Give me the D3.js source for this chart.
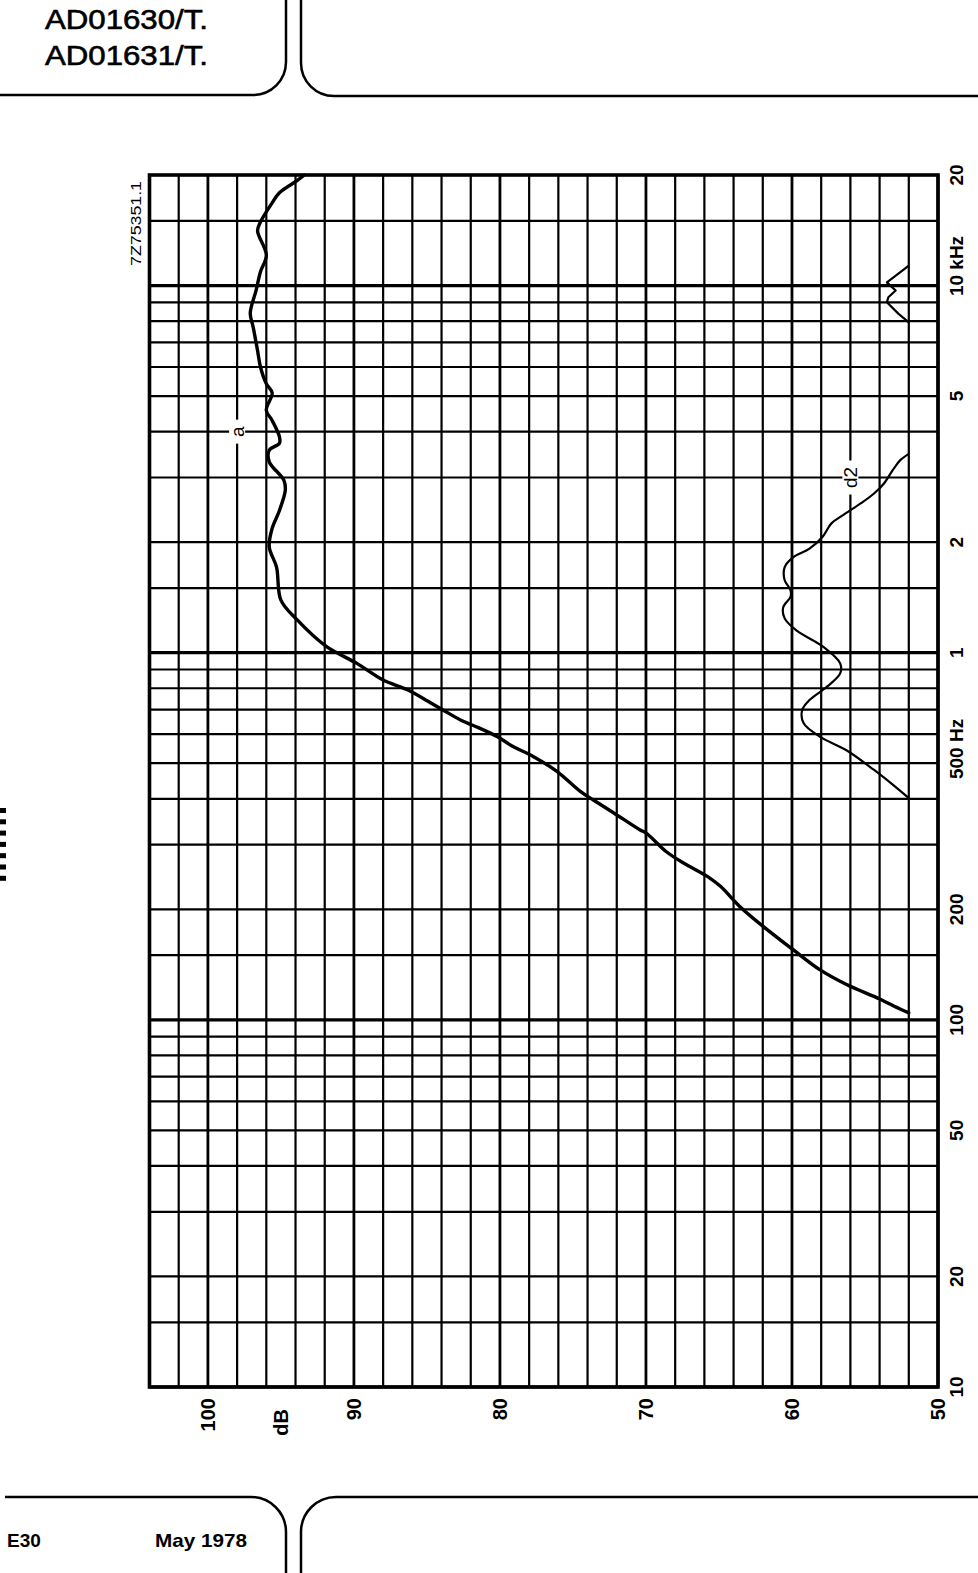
<!DOCTYPE html>
<html>
<head>
<meta charset="utf-8">
<script src="https://cdn.jsdelivr.net/npm/d3@7"></script>
<style>
  html, body { margin: 0; padding: 0; background: #ffffff; }
  svg { display: block; }
</style>
</head>
<body>
<svg id="chart" width="978" height="1573"></svg>
<script>
// ---------------- data ----------------
const gridFreqs = [10,15,20,30,40,50,60,70,80,90,
                   100,150,200,300,400,500,600,700,800,900,
                   1000,1500,2000,3000,4000,5000,6000,7000,8000,9000,
                   10000,15000,20000];
const decadeFreqs = [10,100,1000,10000];
const gridDb = [50,52,54,56,58,60,62,64,66,68,70,72,74,76,78,80,82,84,86,88,90,92,94,96,98,100,102,104];

const freqLabelValues = [10,20,50,100,200,500,1000,2000,5000,10000,20000];
const freqLabelTexts  = ["10","20","50","100","200","500","1","2","5","10","20"];
const freqLabelUnits  = ["","","","","",  " Hz","","","", " kHz",""];

const dbLabelValues = [100,90,80,70,60,50];
const dbLabelTexts  = ["100","90","80","70","60","50"];
const dbUnitText = "dB";
const dbUnitValue = 95;

// curve a (sound pressure level)
const curveAFreq = [20000,19300,17900,16800,14900,14100,12100,10900,9700,8400,
                    7700,6650,6000,5400,5100,4570,4290,3870,3720,3560,
                    3310,2950,2770,2440,2180,1940,1710,1390,1230,1040,
                    996,935,842,791,736,698,656,623,591,555,
                    521,475,419,397,366,329,323,287,267,246,
                    231,204,180,155,137,125,114,107,104.5];
const curveADb   = [93.4,93.9,95.1,95.6,96.4,96.6,96.0,96.4,96.7,97.1,
                    96.9,96.6,96.4,96.0,95.6,96.0,95.6,95.1,95.1,95.8,
                    95.8,94.8,94.7,95.1,95.6,95.8,95.3,95.0,93.9,91.9,
                    91.1,89.8,88.0,86.3,84.9,83.9,82.7,81.4,80.2,79.1,
                    77.7,76.1,74.5,73.6,72.2,70.4,70.0,68.6,67.4,65.8,
                    64.9,63.6,62.0,59.9,58.1,56.3,54.0,52.6,52.0];

// curve d2 (second harmonic distortion), lower segment
const curveD2Freq = [3480,3340,3140,2890,2710,2550,2370,2250,2070,1920,
                     1820,1710,1575,1480,1420,1330,1240,1150,1040,935,
                     878,808,743,698,642,591,543,480,437,401.5];
const curveD2Db   = [52.0,52.6,53.1,53.7,54.4,55.3,56.5,57.3,57.9,58.8,
                     59.9,60.5,60.5,60.1,60.1,60.6,60.5,59.7,57.9,56.7,
                     56.7,57.6,58.8,59.3,59.2,58.1,56.3,54.4,53.1,52.0];
// curve d2, upper segment near 10 kHz
const curveD2hFreq = [11330,10860,10200,9690,9290,9000,8370,7940];
const curveD2hDb   = [52.0,52.6,53.5,52.9,53.4,53.5,52.7,52.0];

const labelA = {text: "a", freq: 4000, db: 98};
const labelD2 = {text: "d2", freq: 3000, db: 56};
const figCode = "7Z75351.1";
const headerLines = ["AD01630/T.", "AD01631/T."];
const footerPage = "E30";
const footerDate = "May 1978";

// ---------------- drawing ----------------
const svg = d3.select("#chart");
const FONT = "'Liberation Sans', Arial, Helvetica, sans-serif";

const x = d3.scaleLinear().domain([104, 50]).range([149.5, 938]);
const y = d3.scaleLog().domain([10, 20000]).range([1387, 175]);

svg.append("rect").attr("width", 978).attr("height", 1573).attr("fill", "#ffffff");

// header / footer brackets
const frameG = svg.append("g").attr("fill", "none").attr("stroke", "#000").attr("stroke-width", 2.5);
frameG.append("path").attr("d", "M0,95 L253,95 A33,33 0 0 0 286,62 L286,0");
frameG.append("path").attr("d", "M301,0 L301,63 A33,33 0 0 0 334,96 L978,96");
frameG.append("path").attr("d", "M5,1497 L251,1497 A35,35 0 0 1 286,1532 L286,1573");
frameG.append("path").attr("d", "M301,1573 L301,1532 A35,35 0 0 1 336,1497 L978,1497");

// header text
svg.selectAll("text.hdr").data(headerLines).enter().append("text")
  .attr("class", "hdr")
  .attr("x", 45).attr("y", (d, i) => 29 + i * 36)
  .attr("font-family", FONT).attr("font-size", 27)
  .attr("stroke", "#000").attr("stroke-width", 0.6)
  .attr("textLength", 163).attr("lengthAdjust", "spacingAndGlyphs")
  .text(d => d);

// footer text
svg.append("text").attr("x", 7).attr("y", 1547)
  .attr("font-family", FONT).attr("font-weight", "bold").attr("font-size", 19)
  .text(footerPage);
svg.append("text").attr("x", 155).attr("y", 1547)
  .attr("font-family", FONT).attr("font-weight", "bold").attr("font-size", 19)
  .attr("textLength", 92).attr("lengthAdjust", "spacingAndGlyphs")
  .text(footerDate);

// small marks on left edge
svg.append("g").selectAll("rect").data(d3.range(7)).enter().append("rect")
  .attr("x", 0).attr("y", i => 808 + i * 11.3).attr("width", 6).attr("height", 5).attr("fill", "#000");

// grid
const gridG = svg.append("g").attr("stroke", "#000");
gridG.selectAll("line.hf").data(gridFreqs).enter().append("line")
  .attr("x1", x(104)).attr("x2", x(50))
  .attr("y1", d => y(d)).attr("y2", d => y(d))
  .attr("stroke-width", d => decadeFreqs.includes(d) ? 3.2 : 2.2);
gridG.selectAll("line.vd").data(gridDb).enter().append("line")
  .attr("y1", y(20000)).attr("y2", y(10))
  .attr("x1", d => x(d)).attr("x2", d => x(d))
  .attr("stroke-width", d => d % 10 === 0 ? 2.8 : 2.2);
// frame
svg.append("rect")
  .attr("x", x(104)).attr("y", y(20000))
  .attr("width", x(50) - x(104)).attr("height", y(10) - y(20000))
  .attr("fill", "none").attr("stroke", "#000").attr("stroke-width", 3.6);

// curves
const line = d3.line().x(d => x(d[1])).y(d => y(d[0])).curve(d3.curveCatmullRom.alpha(0.5));
const zip = (a, b) => a.map((v, i) => [v, b[i]]);

svg.append("path").datum(zip(curveAFreq, curveADb))
  .attr("d", line).attr("fill", "none").attr("stroke", "#000")
  .attr("stroke-width", 3.4).attr("stroke-linejoin", "round").attr("stroke-linecap", "round");
svg.append("path").datum(zip(curveD2Freq, curveD2Db))
  .attr("d", line).attr("fill", "none").attr("stroke", "#000")
  .attr("stroke-width", 2.2).attr("stroke-linejoin", "round");
svg.append("path").datum(zip(curveD2hFreq, curveD2hDb))
  .attr("d", d3.line().x(d => x(d[1])).y(d => y(d[0])))
  .attr("fill", "none").attr("stroke", "#000")
  .attr("stroke-width", 2.2).attr("stroke-linejoin", "round");

// curve labels (rotated, on white)
function curveLabel(lbl, boxW, boxH) {
  const g = svg.append("g").attr("transform", `translate(${x(lbl.db)},${y(lbl.freq)})`);
  g.append("rect").attr("x", -boxW / 2).attr("y", -boxH / 2).attr("width", boxW).attr("height", boxH).attr("fill", "#fff");
  g.append("text").attr("transform", "rotate(-90)")
    .attr("text-anchor", "middle").attr("dy", "0.35em")
    .attr("font-family", FONT).attr("font-size", 19)
    .text(lbl.text);
}
curveLabel(labelA, 16, 24);
curveLabel(labelD2, 16, 34);

// frequency labels on the right
const fl = svg.append("g").attr("font-family", FONT).attr("font-weight", "bold").attr("font-size", 19);
freqLabelValues.forEach((f, i) => {
  const g = fl.append("g").attr("transform", `translate(956,${y(f)}) rotate(-90)`);
  const tmp = g.append("text").text(freqLabelTexts[i]);
  const w = tmp.node().getComputedTextLength();
  tmp.remove();
  const t = g.append("text").attr("x", -w / 2).attr("dy", "0.36em");
  t.append("tspan").text(freqLabelTexts[i]);
  if (freqLabelUnits[i]) t.append("tspan").text(freqLabelUnits[i]);
});

// dB labels at bottom
const dl = svg.append("g").attr("font-family", FONT).attr("font-weight", "bold").attr("font-size", 20);
dbLabelValues.forEach((v, i) => {
  dl.append("text").attr("transform", `translate(${x(v)},1398) rotate(-90)`)
    .attr("text-anchor", "end").attr("dy", "0.36em").text(dbLabelTexts[i]);
});
dl.append("text").attr("transform", `translate(${x(dbUnitValue)},1409) rotate(-90)`)
  .attr("text-anchor", "end").attr("dy", "0.36em").text(dbUnitText);

// figure code
svg.append("text").attr("transform", "translate(136,181) rotate(-90)")
  .attr("text-anchor", "end").attr("dy", "0.36em")
  .attr("font-family", FONT).attr("font-size", 15)
  .attr("textLength", 85).attr("lengthAdjust", "spacingAndGlyphs")
  .text(figCode);
</script>
</body>
</html>
